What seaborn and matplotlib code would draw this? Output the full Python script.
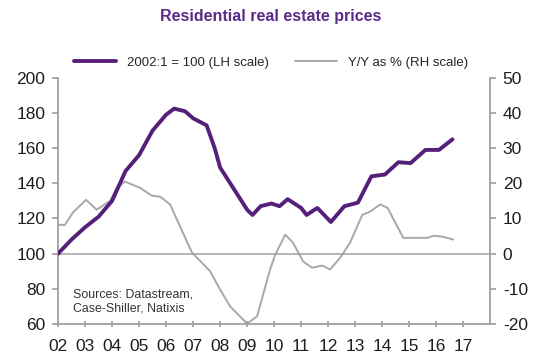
import matplotlib
matplotlib.use("Agg")
import matplotlib.pyplot as plt
import seaborn as sns
import pandas as pd
import numpy as np

sns.set_theme(style="white")
plt.rcParams['font.family'] = ['Liberation Sans', 'DejaVu Sans']
plt.rcParams['axes.unicode_minus'] = False

# Price index, 2002:1 = 100 (LH scale)
idx_years = [2002.0, 2002.5, 2003.0, 2003.5, 2004.0, 2004.5, 2005.0, 2005.5, 2006.0, 2006.3,
             2006.7, 2007.0, 2007.5, 2007.8, 2008.0, 2008.5, 2009.0, 2009.2, 2009.5, 2009.9,
             2010.2, 2010.5, 2011.0, 2011.2, 2011.6, 2012.1, 2012.6, 2013.1, 2013.6, 2014.1,
             2014.6, 2015.05, 2015.6, 2016.1, 2016.6]
idx_values = [100, 108, 115, 121, 130, 147, 156, 170, 179, 182.5,
              181, 177, 173, 160, 149, 137, 125, 122, 127, 128.5,
              127, 131, 126, 122, 126, 118, 127, 129, 144, 145,
              152, 151.5, 159, 159, 165]

# Y/Y change, % (RH scale)
yoy_years = [2002.0, 2002.26, 2002.56, 2003.04, 2003.43, 2003.93, 2004.17, 2004.48, 2005.04,
             2005.47, 2005.78, 2006.15, 2006.52, 2006.96, 2007.63, 2008.0, 2008.37, 2009.0,
             2009.37, 2009.85, 2010.04, 2010.41, 2010.7, 2011.07, 2011.4, 2011.78, 2012.07,
             2012.44, 2012.81, 2013.26, 2013.56, 2013.93, 2014.2, 2014.56, 2014.78, 2015.15,
             2015.67, 2015.9, 2016.26, 2016.63]
yoy_values = [8.2, 8.2, 11.8, 15.3, 12.5, 15.0, 18.7, 20.5, 18.7,
              16.5, 16.2, 14.0, 7.7, 0.3, -5.0, -10.2, -15.0, -19.9,
              -17.8, -4.5, -0.3, 5.4, 3.1, -2.2, -4.0, -3.4, -4.5,
              -1.2, 3.1, 11.0, 12.0, 14.0, 13.0, 7.7, 4.5, 4.5,
              4.5, 5.1, 4.8, 4.0]

tick_years = list(range(2002, 2018))
tick_labels = [f"{y % 100:02d}" for y in tick_years]
left_ticks = [60, 80, 100, 120, 140, 160, 180, 200]
right_ticks = [-20, -10, 0, 10, 20, 30, 40, 50]

purple = "#55207a"
grey = "#a8a8a8"
axis_grey = "#a0a0a0"

df_idx = pd.DataFrame({"year": idx_years, "value": idx_values})
df_yoy = pd.DataFrame({"year": yoy_years, "value": yoy_values})

fig = plt.figure(figsize=(5.37, 3.62), dpi=100)
ax = fig.add_axes([0.108, 0.105, 0.805, 0.680])
ax2 = ax.twinx()

ax.axhline(100, color=axis_grey, lw=1.1, zorder=1)
sns.lineplot(data=df_yoy, x="year", y="value", ax=ax2, color=grey, lw=1.4, zorder=2)
sns.lineplot(data=df_idx, x="year", y="value", ax=ax, color=purple, lw=2.8, zorder=3)
ax.set_zorder(ax2.get_zorder() + 1)
ax.patch.set_visible(False)

ax.set_xlim(2002, 2018)
ax.set_ylim(60, 200)
ax2.set_ylim(-20, 50)
ax.set_xticks(tick_years)
ax.set_xticklabels(tick_labels)
ax.set_yticks(left_ticks)
ax2.set_yticks(right_ticks)
for a in (ax, ax2):
    a.set_xlabel("")
    a.set_ylabel("")
    a.grid(False)
    for s in a.spines.values():
        s.set_color(axis_grey)
        s.set_linewidth(1.3)
    a.spines["top"].set_visible(False)
ax.spines["right"].set_visible(False)
ax2.spines["left"].set_visible(False)
ax2.spines["bottom"].set_visible(False)

lbl = "#1e1e1e"
ax.tick_params(axis="y", left=True, direction="out", length=4, color=axis_grey, labelsize=12.5, pad=5, labelcolor=lbl)
ax.tick_params(axis="x", bottom=True, direction="inout", length=5, color=axis_grey, labelsize=12.5, pad=8, labelcolor=lbl)
ax2.tick_params(axis="y", right=True, direction="out", length=4, color=axis_grey, labelsize=12.5, pad=5, labelcolor=lbl)

ax.text(2002.55, 65.5, "Sources: Datastream,\nCase-Shiller, Natixis", fontsize=8.9, color="#333333",
        ha="left", va="bottom", linespacing=1.15)

from matplotlib.lines import Line2D
handles = [Line2D([], [], color=purple, lw=2.8), Line2D([], [], color=grey, lw=1.4)]
fig.legend(handles, ["2002:1 = 100 (LH scale)", "Y/Y as % (RH scale)"], loc="center",
           bbox_to_anchor=(0.505, 0.826), ncol=2, frameon=False, fontsize=9.5,
           handlelength=3.2, columnspacing=2.0, handletextpad=0.8)

fig.text(0.505, 0.955, "Residential real estate prices", ha="center", va="center",
         fontsize=11.5, fontweight="bold", color="#5b2a86")

fig.savefig("out.png", dpi=100)
